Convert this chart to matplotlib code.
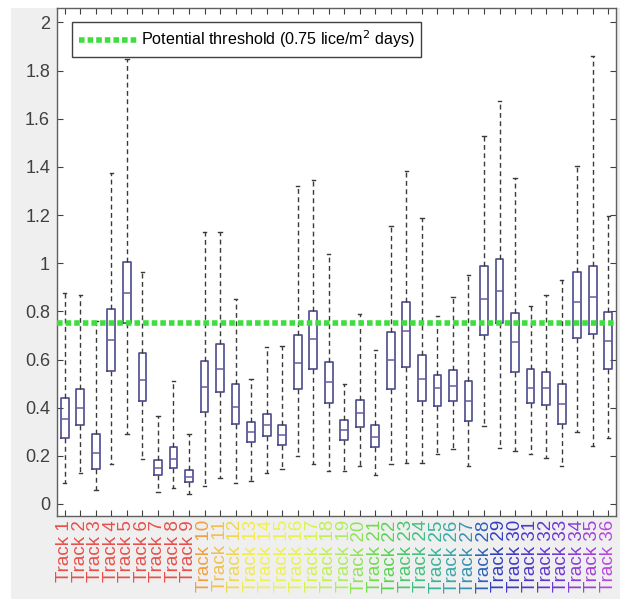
import matplotlib
matplotlib.use("Agg")
import matplotlib.pyplot as plt
from matplotlib.patches import Rectangle

plt.rcParams['font.family'] = ['Liberation Sans', 'DejaVu Sans']

tracks = ["Track %d" % i for i in range(1, 37)]
whislo = [0.088, 0.13, 0.057, 0.164, 0.291, 0.185, 0.051, 0.065, 0.040, 0.075,
          0.107, 0.088, 0.095, 0.127, 0.144, 0.199, 0.164, 0.137, 0.137, 0.157,
          0.120, 0.164, 0.171, 0.170, 0.206, 0.230, 0.157, 0.323, 0.233, 0.220,
          0.206, 0.190, 0.157, 0.300, 0.240, 0.275]
q1 = [0.275, 0.33, 0.144, 0.551, 0.751, 0.427, 0.119, 0.148, 0.091, 0.380,
      0.463, 0.333, 0.258, 0.282, 0.244, 0.479, 0.562, 0.420, 0.264, 0.320,
      0.236, 0.478, 0.570, 0.429, 0.406, 0.427, 0.346, 0.703, 0.750, 0.550,
      0.420, 0.413, 0.334, 0.689, 0.705, 0.562]
med = [0.351, 0.399, 0.210, 0.679, 0.875, 0.516, 0.150, 0.185, 0.113, 0.485,
       0.562, 0.403, 0.298, 0.328, 0.285, 0.585, 0.686, 0.506, 0.306, 0.378,
       0.279, 0.596, 0.720, 0.520, 0.480, 0.490, 0.426, 0.850, 0.885, 0.672,
       0.480, 0.480, 0.415, 0.838, 0.861, 0.678]
q3 = [0.440, 0.479, 0.291, 0.810, 1.006, 0.627, 0.182, 0.237, 0.141, 0.592,
      0.665, 0.498, 0.340, 0.374, 0.327, 0.703, 0.800, 0.588, 0.348, 0.430,
      0.328, 0.714, 0.838, 0.617, 0.534, 0.555, 0.509, 0.990, 1.017, 0.792,
      0.560, 0.550, 0.500, 0.962, 0.990, 0.796]
whishi = [0.878, 0.868, 0.758, 1.375, 1.850, 0.962, 0.364, 0.509, 0.291, 1.130,
          1.130, 0.852, 0.521, 0.652, 0.658, 1.320, 1.347, 1.040, 0.500, 0.787,
          0.640, 1.155, 1.385, 1.188, 0.782, 0.858, 0.950, 1.530, 1.675, 1.355,
          0.824, 0.868, 0.930, 1.404, 1.862, 1.195]
label_colors = ['#e8504a'] * 9 + ['#f0a040', '#f2c050', '#f0d850', '#f2ea50', '#f2f050',
                '#eef050', '#e8f250', '#d8f250', '#c2ee58', '#b0ec60', '#90e458',
                '#70dc50', '#58d450', '#48c86a', '#40c080', '#38b498', '#38a8a8',
                '#3890b0', '#3060b8', '#3040c0', '#4038c8', '#5038cc', '#6038d0',
                '#7038d4', '#8840d8', '#a040dc', '#b848e0']
threshold = 0.75
threshold_label = "Potential threshold (0.75 lice/m$^2$ days)"

W, H = 628, 599
fig = plt.figure(figsize=(W / 100, H / 100), dpi=100, facecolor='white')
fig.patches.append(Rectangle((11 / W, 0), (620 - 11) / W, 1 - 8 / H,
                             transform=fig.transFigure, facecolor='#efefef',
                             edgecolor='none', zorder=-10))
ax = fig.add_axes([57 / W, 1 - 516 / H, 559 / W, 508 / H])
ax.set_facecolor('white')

stats = []
for i in range(len(tracks)):
    stats.append(dict(whislo=whislo[i], q1=q1[i], med=med[i], q3=q3[i],
                      whishi=whishi[i], fliers=[]))
positions = list(range(1, len(tracks) + 1))
ax.bxp(stats, positions=positions, widths=0.5, capwidths=0.22,
       showfliers=False, patch_artist=False,
       boxprops=dict(color='#4c4c8c', linewidth=1.2),
       medianprops=dict(color='#6a5a9e', linewidth=1.1),
       whiskerprops=dict(color='#3a3a3a', linewidth=1.0, linestyle=(0, (3.5, 2.5))),
       capprops=dict(color='#3a3a3a', linewidth=1.0))

ax.axhline(threshold, color='#3ede3e', linewidth=4, linestyle=(0, (1, 0.55)),
           dash_capstyle='butt', label=threshold_label, zorder=5)

ax.set_xlim(0.5, len(tracks) + 0.5)
ax.set_ylim(-0.05, 2.06)
ax.set_yticks([0, 0.2, 0.4, 0.6, 0.8, 1, 1.2, 1.4, 1.6, 1.8, 2])
ax.set_yticklabels(['0', '0.2', '0.4', '0.6', '0.8', '1', '1.2', '1.4', '1.6', '1.8', '2'])
ax.set_xticks(positions)
ax.set_xticklabels(tracks, rotation=90, fontsize=13.5)
for lbl, c in zip(ax.get_xticklabels(), label_colors):
    lbl.set_color(c)
ax.tick_params(axis='y', labelsize=13, colors='#404040', labelcolor='#404040',
               direction='in', length=4, right=True, pad=5)
ax.tick_params(axis='x', direction='in', length=4, top=True, pad=3, color='#404040')
for s in ax.spines.values():
    s.set_color('#606060')
    s.set_linewidth(1.0)

leg = ax.legend(loc='upper left', bbox_to_anchor=(0.027, 0.972), borderaxespad=0,
                fontsize=11.6, handlelength=3.7, handletextpad=0.15, fancybox=False,
                framealpha=1, edgecolor='#404040', borderpad=0.4)
leg.get_frame().set_linewidth(1.0)

fig.savefig('out.png', dpi=100, facecolor=fig.get_facecolor())
